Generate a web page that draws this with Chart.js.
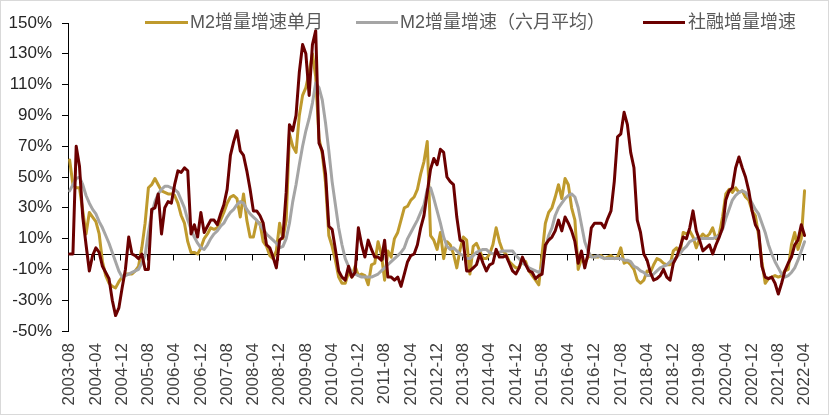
<!DOCTYPE html>
<html><head><meta charset="utf-8">
<script src="https://cdn.jsdelivr.net/npm/chart.js@4"></script>
<style>
html,body{margin:0;padding:0;background:#fff;}
#wrap{position:relative;width:829px;height:415px;overflow:hidden;}
#frame{position:absolute;left:0;top:0;width:829px;height:415px;box-sizing:border-box;border:1px solid #d9d9d9;pointer-events:none;}
.lg{position:absolute;top:11px;font-family:"Liberation Sans","Noto Sans CJK SC",sans-serif;font-size:18px;color:#595959;line-height:22px;white-space:nowrap;}
.sw{position:absolute;height:3px;top:21px;}
</style></head><body>
<div id="wrap"><canvas id="c" width="829" height="415"></canvas>
<div class="sw" style="left:145px;width:43px;background:#BF9A2D"></div>
<span class="lg" style="left:190px">M2增量增速单月</span>
<div class="sw" style="left:356px;width:42px;background:#A5A5A5"></div>
<span class="lg" style="left:400px">M2增量增速（六月平均）</span>
<div class="sw" style="left:643px;width:42px;background:#6B0000"></div>
<span class="lg" style="left:688px">社融增量增速</span>
<div id="frame"></div></div>
<script>
// Categories: monthly, 2003-08 .. 2022-04
const startYear = 2003, startMonth = 8, monthCount = 225;
const labels = [];
for (let i = 0; i < monthCount; i++) {
  const m = startMonth - 1 + i;
  const yy = startYear + Math.floor(m / 12);
  const mm = (m % 12) + 1;
  labels.push(yy + '-' + (mm < 10 ? '0' + mm : mm));
}
const seriesNames = ['M2增量增速单月', 'M2增量增速（六月平均）', '社融增量增速'];
const yTicks = [-50, -30, -10, 10, 30, 50, 70, 90, 110, 130, 150];

const m2Monthly = [
61,45,43,43,28,13,27,24,21,13,-5,-14,-19,-21,-22,-18,-15,-13,-13,-13,
-11,-8,4,20,43,45,49,45,41,40,39,39,38,33,25,20,8,1,1,0,
4,10,13,17,16,17,22,27,33,37,38,36,24,39,22,11,11,21,20,8,
5,-1,-3,2,20,10,22,78,70,66,90,103,108,118,130,115,75,65,46,12,
5,-4,-15,-19,-19,-12,-15,-8,-14,-13,-14,-20,-7,-6,8,0,-17,2,-2,10,
14,22,30,31,35,37,42,52,60,73,12,9,3,14,-3,8,6,0,-9,3,
11,9,-13,5,7,2,-3,-3,0,6,17,8,2,0,-5,-7,-9,-9,-4,-5,
-11,-14,-17,-20,0,20,27,30,37,45,36,49,45,30,22,-10,-3,-6,-2,-1,
-2,-2,-1,-3,-2,-1,-3,-2,4,-6,-5,-7,-10,-17,-19,-17,-11,-12,-7,-3,
-4,-6,-7,-7,2,4,0,14,13,15,11,4,10,13,11,13,17,10,13,24,
39,42,40,43,40,41,37,35,28,25,12,-5,-19,-16,-15,-14,-15,-14,-11,-10,
6,14,3,10,41
];
const m2SixMonthAvg = [
41,45,49,50,45,38,33,29,26,21,17,12,7,1,-5,-11,-15,-14,-13,-12,
-11,-10,-6,-1,14,26,34,39,42,44,44,43,42,40,35,30,22,16,11,7,
4,3,6,10,13,15,18,20,24,27,29,32,34,33,29,26,24,22,19,16,
13,11,9,7,4,5,10,20,34,45,58,70,80,88,98,111,108,100,85,67,
47,32,17,6,-3,-8,-12,-13,-14,-15,-15,-15,-15,-14,-13,-11,-9,-7,-5,-3,
-1,1,4,10,14,18,22,27,32,42,43,36,28,20,11,5,3,4,2,0,
-1,-3,-3,-1,1,2,3,3,1,0,1,1,2,2,2,2,-1,-3,-6,-7,
-9,-10,-11,-12,-9,4,12,17,25,30,33,36,38,39,37,30,19,8,2,-2,
-2,-1,-2,-3,-3,-3,-3,-3,-3,-4,-4,-5,-8,-9,-11,-12,-14,-14,-13,-11,
-9,-8,-7,-5,-4,-2,0,3,5,8,9,10,10,10,10,10,10,11,12,16,
23,29,35,38,40,41,40,37,33,29,26,20,14,6,0,-5,-9,-13,-15,-14,
-12,-9,-4,2,8
];
const tsfGrowth = [
0,0,70,57,24,6,-11,-1,4,1,-8,-12,-16,-30,-40,-35,-22,-10,11,0,
-1,-3,0,-10,-10,29,30,39,13,30,34,33,45,54,53,56,54,13,19,11,
27,14,18,22,22,19,26,32,42,64,73,80,67,64,54,42,28,28,25,20,
6,4,-2,-9,9,11,40,84,80,90,118,136,130,103,136,145,72,67,52,18,
16,3,-11,-15,-17,-8,-15,-12,17,6,-2,9,3,-2,-2,-4,9,-15,-15,-17,
-15,-21,-13,-5,-1,0,6,17,25,40,55,62,58,68,66,50,47,45,24,9,
8,-11,-11,-9,-7,0,-6,-11,-7,-6,3,-2,-2,-1,-6,-11,-13,-9,-2,-7,
-11,-12,-16,-14,-13,6,9,11,15,22,15,24,20,15,8,-6,2,-9,0,17,
20,20,20,17,23,28,47,76,78,92,84,66,56,22,14,0,-4,-12,-17,-16,
-14,-10,-15,-17,-6,-2,4,11,10,17,28,15,9,2,4,6,0,6,11,17,
35,41,43,56,63,56,50,41,28,19,15,-8,-15,-16,-15,-19,-26,-19,-11,-6,
-2,6,9,19,12
];

const zeroAxis = {
  id: 'zeroAxis',
  beforeDatasetsDraw(chart) {
    const { ctx, chartArea: a, scales: { x, y } } = chart;
    const y0 = Math.round(y.getPixelForValue(0)) + 0.5;
    const half = (x.getPixelForValue(1) - x.getPixelForValue(0)) / 2;
    ctx.save();
    ctx.strokeStyle = '#000';
    ctx.lineWidth = 1;
    ctx.beginPath();
    ctx.moveTo(a.left, y0); ctx.lineTo(a.right, y0);
    for (let k = 8; k < labels.length; k += 8) {
      const px = Math.round(x.getPixelForValue(k) - half) + 0.5;
      ctx.moveTo(px, y0); ctx.lineTo(px, y0 + 6);
    }
    ctx.stroke();
    ctx.restore();
  }
};

const tickFont = { family: '"Liberation Sans", Arial, sans-serif', size: 17 };

new Chart(document.getElementById('c'), {
  type: 'line',
  data: {
    labels: labels,
    datasets: [
      { label: seriesNames[0], data: m2Monthly, borderColor: '#BF9A2D', order: 2 },
      { label: seriesNames[1], data: m2SixMonthAvg, borderColor: '#A5A5A5', order: 1 },
      { label: seriesNames[2], data: tsfGrowth, borderColor: '#6B0000', order: 0 }
    ]
  },
  options: {
    responsive: false,
    animation: false,
    devicePixelRatio: 1,
    layout: { padding: { left: 0, top: 23, right: 16, bottom: 0 } },
    elements: {
      line: { borderWidth: 3, tension: 0, borderJoinStyle: 'round', borderCapStyle: 'round', fill: false },
      point: { radius: 0, hoverRadius: 0 }
    },
    plugins: { legend: { display: false }, tooltip: { enabled: false } },
    scales: {
      x: {
        type: 'category',
        offset: true,
        grid: { display: false, drawTicks: true, tickLength: 8, offset: true },
        border: { display: false },
        ticks: {
          autoSkip: false, minRotation: 90, maxRotation: 90, padding: 4,
          color: '#404040', font: tickFont,
          callback: function (v, i) { return i % 8 === 0 ? labels[i] : null; }
        },
        afterFit: function (s) { s.height = 84; }
      },
      y: {
        min: -50, max: 150,
        afterBuildTicks: function (s) { s.ticks = yTicks.map(v => ({ value: v })); },
        grid: { display: true, drawOnChartArea: false, drawTicks: true, tickLength: 6, color: '#000' },
        border: { display: true, color: '#000', width: 1 },
        ticks: { padding: 10, color: '#262626', font: tickFont, callback: v => v + '%' },
        afterFit: function (s) { s.width = 68; }
      }
    }
  },
  plugins: [zeroAxis]
});
</script>
</body></html>
